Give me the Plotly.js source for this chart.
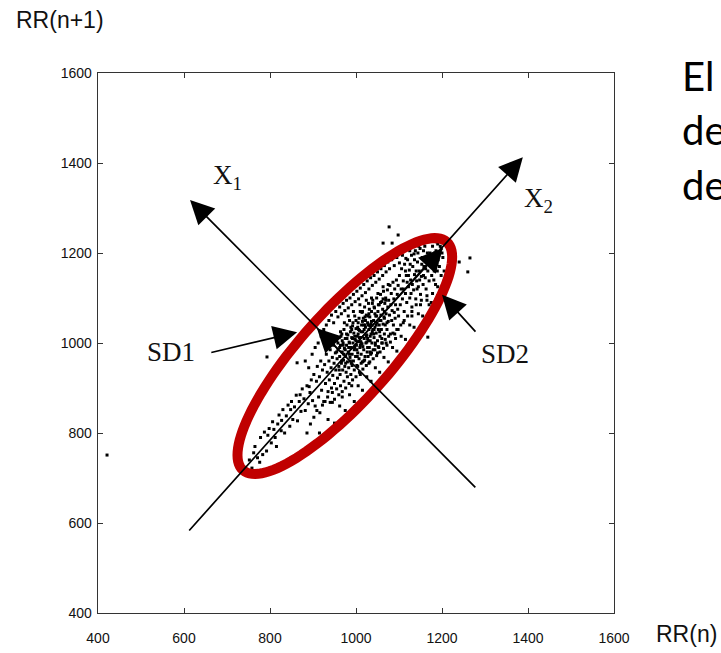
<!DOCTYPE html>
<html><head><meta charset="utf-8">
<script src="https://cdn.plot.ly/plotly-3.0.1.min.js"></script>
<style>html,body{margin:0;padding:0;background:#fff;overflow:hidden}#chart{width:721px;height:653px;}</style>
</head><body><div id="chart"></div>
<script>
// ---- data: RR(n) vs RR(n+1) ----
const tailX = [744,752,758,762,765,771,776,778,783,787,792,795,798,803,806,809,812,815,818,821,826,827,830,834,838,842,846,848,850,853,857,861,864,868,870,872,875,879,882,886,889,891,893,896,899];
const tailY = [715,740,722,756,770,745,735,790,752,802,760,795,810,778,825,808,790,770,820,840,805,828,852,800,838,862,815,852,870,830,858,884,827,870,885,848,898,876,850,905,865,903,890,918,872];

const coreX = [902,905,908,910,913,915,918,920,922,925,927,929,931,933,935,937,938,940,942,943,945,946,948,949,950,952,953,955,956,957,958,960,961,962,963,964,966,967,968,969,970,971,972,973,974,975,976,977,978,979,980,981,982,983,984,985,986,987,988,989,990,991,992,993,994,995,996,997,998,999,1000,1001,1002,1003,1004,1005,1006,1007,1008,1009,1010,1011,1012,1013,1014,1015,1016,1017,1018,1019,1020,1021,1022,1023,1024,1025,1026,1027,1028,1029,1030,1031,1032,1033,1034,1035,1036,1037,1038,1039,1040,1041,1042,1043,1044,1045,1046,1047,1048,1049,1050,1051,1052,1053,1054,1055,1056,1057,1058,1059,1060,1061,1062,1063,1064,1065,1066,1067,1068,1069,1070,1072,1073,1074,1075,1076,1078,1079,1080,1081,1082,1083,1084,1086,1087,1088,1089,1090,1091,1092,1094,1095,1096,1097,1098,1099];
const coreY = [930,860,915,948,880,925,960,895,940,870,952,910,975,935,892,960,918,985,945,900,968,928,995,955,910,978,940,1005,965,922,985,948,1012,970,930,995,955,1020,980,940,1000,962,1030,988,948,1010,970,935,995,1040,958,1018,980,945,1002,1050,968,1025,990,955,1012,975,1038,1000,960,1022,985,1060,1008,970,1032,995,950,1015,978,1045,1003,965,1028,990,1070,1012,975,1040,998,958,1025,1055,985,1010,1080,970,1035,1000,1062,1018,980,1045,1005,1088,1030,990,1058,1015,975,1042,1070,1000,1025,1095,985,1050,1012,1078,1035,995,1060,1022,1100,1045,1005,1070,1030,990,1085,1050,1015,1108,1062,1030,1092,1000,1075,1042,1115,1058,1020,1088,1040,1100,1065,1030,1118,1080,1048,1095,1062,1128,1020,1085,1110,1050,1072,1135,1040,1098,1068,1120,1055,1085,1140,1030,1108,1075,1128,1060];

const denseX = [955,962,968,975,985,990,992,1000,1005,1008,1010,1012,1015,1018,1022,1025,1028,1032,1035,1042,965,972,978,983,987,993,997,1002,1004,1007,1011,1014,1016,1019,1021,1024,1027,1029,1031,1033,1036,1038,1041,1044,1047,1052,1055,1058,1063,1066];
const denseY = [980,990,1005,985,1000,1030,1010,1005,1020,1012,995,1025,1048,1040,1050,1002,1060,1038,1020,1030,1015,975,1020,990,960,1045,1015,985,1035,1055,1003,1068,992,1030,1058,1015,990,1040,1075,1005,1048,1088,1020,1065,1040,1085,1025,1050,1098,1070];

const core2X = [958,961,964,967,970,973,976,979,982,985,988,991,994,997,1000,1003,1006,1009,1012,1015,1018,1021,1024,1027,1030,1033,1036,1039,1042,1045,1048,1051,1054,1057,1060,1063,1066,1069,1072,1075];
const core2Y = [1000,940,1025,960,995,1045,955,1010,1060,975,1035,950,1070,990,1050,970,1030,1085,1000,1070,960,1040,1095,1010,1065,980,1100,1030,1080,1000,1060,1110,1040,1090,1010,1125,1055,1095,1045,1130];

const wideX = [882,886,890,894,898,902,905,909,912,916,919,922,925,928,931,934,937,940,943,945,948,950,953,955,958,960,962,964,966,968,970,972,974,976,978,980,982,984,986,988,990,992,994,996,998,1000,1002,1004,1006,1008,1010,1012,1014,1016,1018,1020,1022,1024,1026,1028,1030,1032,1034,1036,1038,1040,1042,1044,1046,1048,1050,1052,1054,1056,1058,1060,1062,1064,1066,1068,1070,1072,1074,1076,1078,1080,1083,1086,1089,1092,1095,1098,1101,1104,1108,1112,1116,1120,1125,1130,1135,1140,1146,1152,1158,1165];
const wideY = [960,800,945,820,975,835,990,850,1000,845,1015,862,1030,870,1040,880,1050,868,1062,890,1045,875,1070,898,1058,885,1080,905,1065,892,1088,915,1072,900,1095,925,1078,910,1100,930,1085,918,1108,940,1092,925,1115,948,1098,935,1122,955,1105,942,1130,962,1112,950,1138,970,1120,958,1145,978,1128,965,1150,985,1135,972,1158,992,1142,980,1165,1000,1150,988,1172,1008,1158,995,1180,1015,1165,1002,1185,1022,1172,1010,1190,1030,1178,1040,1195,1050,1188,1060,1205,1070,1198,1085,1215,1095,1222,1105];

const lowX = [915,935,950,962,975,985,996,1005,1015,1025,1035,1045,1055,1065,1075,1085,1095,1105,1115,1125,1135,1145,1155,1165,1175,1185,945,968,990,1010,1030,1050,1070,1090,1110,1130,1150];
const lowY = [800,830,822,860,850,885,870,905,895,925,915,945,935,968,958,990,982,1015,1008,1040,1035,1065,1060,1095,1090,1130,868,880,905,930,955,978,1000,1020,1045,1060,1085];

const upperX = [1101,1103,1105,1106,1108,1110,1112,1113,1115,1117,1118,1120,1122,1124,1125,1127,1129,1130,1132,1134,1136,1138,1139,1141,1143,1145,1147,1149,1150,1152,1154,1156,1158,1160,1161,1163,1165,1167,1169,1170,1172,1174,1176,1178,1180,1182,1184,1186,1188,1190,1193,1195,1198,1202,1205,1170,1178,1185,1190,1198,1205];
const upperY = [1150,1085,1120,1165,1098,1138,1070,1175,1110,1150,1090,1185,1125,1162,1100,1140,1195,1080,1170,1118,1152,1205,1098,1138,1180,1125,1160,1210,1108,1148,1190,1130,1170,1215,1145,1120,1185,1160,1225,1138,1200,1175,1150,1215,1190,1160,1228,1205,1175,1220,1195,1235,1210,1190,1225,1085,1110,1095,1125,1150,1160];

const upper2X = [1110,1115,1119,1122,1126,1128,1131,1136,1140,1142,1144,1148,1153,1157,1157,1162,1166,1171,1175,1179,1181,1183,1187,1189,1191,1194,1196,1200];
const upper2Y = [1120,1160,1135,1150,1175,1110,1130,1185,1160,1120,1200,1140,1175,1205,1150,1165,1200,1180,1230,1170,1140,1200,1225,1160,1185,1170,1215,1200];

const outX = [421,793,1077,1098,1063,1084,1265,1260,1240,1167,863];
const outY = [751,969,1258,1240,1222,1222,1189,1158,1180,1013,956];

const tickVals = [400,600,800,1000,1200,1400,1600];

// axis-line and arrow end points (data units): [tipX, tipY, tailX, tailY]
const arrowX2 = [1388,1413,609,580];
const arrowX1 = [614,1318,1281,676];
const arrowSD2in = [1202,1211,974,971];
const arrowSD1in = [909,1033,974,971];
const arrowSD1 = [863,1024,660,978];
const arrowSD2 = [1200,1107,1281,1022];

// ---- geometry ----
const W=721,H=653,L=98,R=107,T=73,B=40;
const xr=[400,1600], yr=[400,1600];
const kx=(W-L-R)/(xr[1]-xr[0]), ky=(H-T-B)/(yr[1]-yr[0]);
const toPx=(x,y)=>[L+(x-xr[0])*kx, H-B-(y-yr[0])*ky];
const toData=(px,py)=>[xr[0]+(px-L)/kx, yr[0]+(H-B-py)/ky];

// ellipse around the cloud, aligned with the X2 axis
const ellCenter=[974,971], ellA=153, ellB=45;
const p0=toPx(arrowX2[2],arrowX2[3]), p1=toPx(arrowX2[0],arrowX2[1]);
let ux=p1[0]-p0[0], uy=p1[1]-p0[1]; const ul=Math.hypot(ux,uy); ux/=ul; uy/=ul;
const nx=-uy, ny=ux;
const cpx=toPx(ellCenter[0],ellCenter[1]);
let path='';
for(let i=0;i<=120;i++){
  const t=2*Math.PI*i/120;
  const px=cpx[0]+ellA*Math.cos(t)*ux+ellB*Math.sin(t)*nx;
  const py=cpx[1]+ellA*Math.cos(t)*uy+ellB*Math.sin(t)*ny;
  const d=toData(px,py);
  path+=(i?'L':'M')+d[0].toFixed(2)+','+d[1].toFixed(2);
}
path+='Z';

const xs=[].concat(tailX,coreX,denseX,core2X,wideX,lowX,upperX,upper2X,outX);
const ys=[].concat(tailY,coreY,denseY,core2Y,wideY,lowY,upperY,upper2Y,outY);

const trace={x:xs,y:ys,type:'scatter',mode:'markers',
  marker:{symbol:'square',size:3,color:'#000'},hoverinfo:'skip',cliponaxis:false};

function arrow(a){return {x:a[0],y:a[1],ax:a[2],ay:a[3],xref:'x',yref:'y',axref:'x',ayref:'y',
  text:'',showarrow:true,arrowhead:2,arrowsize:2.8,arrowwidth:1.7,arrowcolor:'#000',standoff:0};}
const serif={family:'Liberation Serif, Times New Roman, serif',size:27,color:'#111'};
function label(t,x,y){return {x:x,y:y,xref:'x',yref:'y',text:t,showarrow:false,font:serif,xanchor:'center',yanchor:'middle'};}
const sans={family:'Liberation Sans, Arial, sans-serif',size:23,color:'#111'};
const big={family:'Lato, Noto Sans, sans-serif',size:40,color:'#000'};

const annotations=[
  arrow(arrowX2),arrow(arrowX1),arrow(arrowSD2in),arrow(arrowSD1in),arrow(arrowSD1),arrow(arrowSD2),
  label('X<sub>1</sub>',702,1369),label('X<sub>2</sub>',1424,1318),
  label('SD1',570,980),label('SD2',1346,975),
  {x:-0.163,y:1.099,xref:'paper',yref:'paper',text:'RR(n+1)',showarrow:false,font:sans,xanchor:'left',yanchor:'middle'},
  {x:1.078,y:-0.039,xref:'paper',yref:'paper',text:'RR(n)',showarrow:false,font:sans,xanchor:'left',yanchor:'middle'},
  {x:1.128,y:0.995,xref:'paper',yref:'paper',text:'El',showarrow:false,font:big,xanchor:'left',yanchor:'middle'},
  {x:1.128,y:0.894,xref:'paper',yref:'paper',text:'de',showarrow:false,font:big,xanchor:'left',yanchor:'middle'},
  {x:1.128,y:0.792,xref:'paper',yref:'paper',text:'de',showarrow:false,font:big,xanchor:'left',yanchor:'middle'}
];

const axisCommon={ticks:'inside',ticklen:5,tickwidth:1,tickcolor:'#333',tickvals:tickVals,
  showline:true,mirror:'ticks',linecolor:'#333',linewidth:1.3,showgrid:false,zeroline:false,
  tickfont:{family:'Liberation Sans, Arial, sans-serif',size:14,color:'#111'},fixedrange:true};

const layout={width:W,height:H,margin:{l:L,r:R,t:T,b:B},paper_bgcolor:'#fff',plot_bgcolor:'#fff',showlegend:false,
  xaxis:Object.assign({},axisCommon,{range:xr,ticklabelstandoff:12}),
  yaxis:Object.assign({},axisCommon,{range:yr,ticklabelstandoff:2}),
  shapes:[{type:'path',path:path,xref:'x',yref:'y',line:{color:'#c00000',width:10},fillcolor:'rgba(0,0,0,0)',layer:'above'}],
  annotations:annotations};

Plotly.newPlot('chart',[trace],layout,{displayModeBar:false,staticPlot:true});
</script></body></html>
